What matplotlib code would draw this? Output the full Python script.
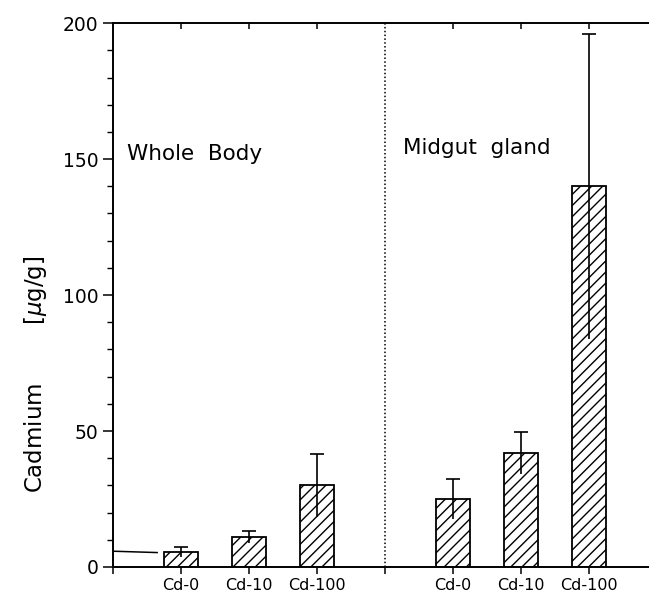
import matplotlib.pyplot as plt
import matplotlib.lines as mlines
import numpy as np

# values
labels = ["Cd-0", "Cd-10", "Cd-100", "Cd-0", "Cd-10", "Cd-100"]
positions = [1, 2, 3, 5, 6, 7]
cadmium = [5.5, 11, 30, 25, 42, 140]
sd = [2, 2.3, 11.5, 7.5, 7.8, 56]

fig = plt.figure(figsize=(6.49, 5.94), dpi=100)
ax = fig.add_axes([0.174, 0.0455, 0.826, 0.9155])

ax.bar(positions, cadmium, width=0.5, color="white", edgecolor="black",
       linewidth=1.3, hatch="///", zorder=2)
ax.vlines(positions, np.array(cadmium) - np.array(sd), np.array(cadmium) + np.array(sd),
          color="black", linewidth=1.2, zorder=3)
ax.hlines(np.array(cadmium) + np.array(sd), np.array(positions) - 0.1, np.array(positions) + 0.1,
          color="black", linewidth=1.2, zorder=3)

# short line from the axis to the first bar, as in the scan
ax.plot([0, 0.65], [5.8, 5.3], color="black", linewidth=1.1)

# divider between the two tissues
ax.axvline(4, color="black", linestyle=(0, (1, 1.5)), linewidth=1.1)

ax.text(0.2, 152, "Whole  Body", fontsize=15.5, va="center")
ax.text(4.27, 154, "Midgut  gland", fontsize=15.5, va="center")

ax.set_xlim(0, 7.88)
ax.set_ylim(0, 200)
ax.set_yticks([0, 50, 100, 150, 200])
ax.set_yticks(np.arange(0, 201, 10), minor=True)
ax.set_xticks([0, 1, 2, 3, 4, 5, 6, 7])
ax.set_xticklabels([""] + labels[:3] + [""] + labels[3:], fontsize=11.5)
ax.tick_params(axis="y", labelsize=13.5, length=7, width=1.1, direction="out")
ax.tick_params(axis="y", which="minor", length=4, width=1)
ax.tick_params(axis="x", length=5, width=1.1, direction="out", pad=3, top=True)

# top ticks point into the plot, bottom ones out
for i, t in enumerate(ax.xaxis.get_major_ticks()):
    t.tick2line.set_marker(mlines.TICKDOWN)
    t.tick2line.set_markersize(4)
    if i in (0, 4):
        t.tick2line.set_visible(False)

ax.set_ylabel("Cadmium        [$\\mu$g/g]", fontsize=16.5)
ax.yaxis.set_label_coords(-0.12, 0.355)

ax.spines["right"].set_visible(False)
for s in ["left", "bottom", "top"]:
    ax.spines[s].set_linewidth(1.4)

plt.savefig("out.png", dpi=100)
